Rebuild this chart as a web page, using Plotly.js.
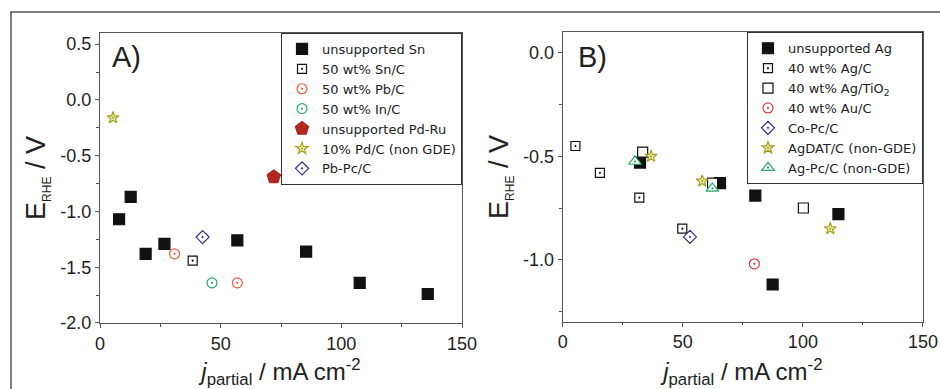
<!DOCTYPE html>
<html>
<head>
<meta charset="utf-8">
<script src="https://cdn.plot.ly/plotly-3.0.1.min.js"></script>
<style>html,body{margin:0;padding:0;background:#fff;}#chart{width:940px;height:389px;}</style>
</head>
<body>
<div id="chart"></div>
<script>
// ---------- Panel A data ----------
const snX = [7.9, 12.7, 18.9, 26.7, 56.9, 85.4, 107.6, 135.8];
const snY = [-1.07, -0.87, -1.38, -1.29, -1.26, -1.36, -1.64, -1.74];
const snCX = [38.4];
const snCY = [-1.44];
const pbCX = [30.9, 56.9];
const pbCY = [-1.38, -1.64];
const inCX = [46.4];
const inCY = [-1.64];
const pdRuX = [72.0];
const pdRuY = [-0.69];
const pdCX = [5.4];
const pdCY = [-0.16];
const pbPcX = [42.5];
const pbPcY = [-1.23];

// ---------- Panel B data ----------
const agX = [32.2, 65.5, 80.2, 114.8, 87.4];
const agY = [-0.53, -0.63, -0.69, -0.78, -1.12];
const agCX = [5.3, 15.5, 31.9, 49.8];
const agCY = [-0.45, -0.58, -0.70, -0.85];
const agTiX = [33.3, 62.4, 100.2];
const agTiY = [-0.48, -0.63, -0.75];
const auCX = [79.8];
const auCY = [-1.02];
const coPcX = [53.0];
const coPcY = [-0.89];
const agDatX = [36.8, 58.1, 111.4];
const agDatY = [-0.50, -0.62, -0.85];
const agPcX = [30.1, 62.3];
const agPcY = [-0.525, -0.655];

// ---------- tick labels ----------
const xTickVals = [0, 50, 100, 150];
const xTickText = ['0', '50', '100', '150'];
const yATickVals = [0.5, 0, -0.5, -1.0, -1.5, -2.0];
const yATickText = ['0.5', '0.0', '-0.5', '-1.0', '-1.5', '-2.0'];
const yBTickVals = [0, -0.5, -1.0];
const yBTickText = ['0.0', '-0.5', '-1.0'];

const cBlack = '#111111', cOrange = '#ee5a36', cGreen = '#22a862', cDarkRed = '#b0281e',
      cOlive = '#a3a31a', cNavy = '#2e2e96', cRed = '#e23a3a';

function tr(name, x, y, symbol, color, size, fill, xa, ya, legend) {
  return {
    type: 'scatter', mode: 'markers', name: name, x: x, y: y,
    xaxis: xa, yaxis: ya, legend: legend,
    marker: { symbol: symbol, size: size, color: fill, line: { color: color, width: 1.2 } }
  };
}

const data = [
  tr('unsupported Sn', snX, snY, 'square', cBlack, 11, cBlack, 'x', 'y', 'legend'),
  tr('50 wt% Sn/C', snCX, snCY, 'square-dot', cBlack, 9, 'white', 'x', 'y', 'legend'),
  tr('50 wt% Pb/C', pbCX, pbCY, 'circle-dot', cOrange, 10, 'white', 'x', 'y', 'legend'),
  tr('50 wt% In/C', inCX, inCY, 'circle-dot', cGreen, 10, 'white', 'x', 'y', 'legend'),
  tr('unsupported Pd-Ru', pdRuX, pdRuY, 'pentagon', cDarkRed, 14, cDarkRed, 'x', 'y', 'legend'),
  tr('10% Pd/C (non GDE)', pdCX, pdCY, 'star-dot', cOlive, 9, '#f2f2c8', 'x', 'y', 'legend'),
  tr('Pb-Pc/C', pbPcX, pbPcY, 'diamond-dot', cNavy, 10, 'white', 'x', 'y', 'legend'),

  tr('unsupported Ag', agX, agY, 'square', cBlack, 11, cBlack, 'x2', 'y2', 'legend2'),
  tr('40 wt% Ag/C', agCX, agCY, 'square-dot', cBlack, 9, 'white', 'x2', 'y2', 'legend2'),
  tr('40 wt% Ag/TiO<sub>2</sub>', agTiX, agTiY, 'square', cBlack, 10, 'white', 'x2', 'y2', 'legend2'),
  tr('40 wt% Au/C', auCX, auCY, 'circle-dot', cRed, 10, 'white', 'x2', 'y2', 'legend2'),
  tr('Co-Pc/C', coPcX, coPcY, 'diamond-dot', cNavy, 10, 'white', 'x2', 'y2', 'legend2'),
  tr('AgDAT/C (non-GDE)', agDatX, agDatY, 'star-dot', cOlive, 9, '#f2f2c8', 'x2', 'y2', 'legend2'),
  tr('Ag-Pc/C (non-GDE)', agPcX, agPcY, 'triangle-up-dot', cGreen, 11, 'white', 'x2', 'y2', 'legend2')
];

const axColor = '#555555';
const tickFont = { family: 'Liberation Sans, Arial, sans-serif', size: 18, color: '#222' };
const titleFontX = { family: 'Liberation Sans, Arial, sans-serif', size: 24, color: '#222' };
const titleFontY = { family: 'Liberation Sans, Arial, sans-serif', size: 27, color: '#222' };

function xAxis(domain, anchor) {
  return {
    domain: domain, anchor: anchor, range: [0, 150], showgrid: false, zeroline: false,
    showline: true, linecolor: axColor, linewidth: 1.2, mirror: true,
    ticks: 'outside', ticklen: 4, tickcolor: axColor, tickwidth: 1,
    tickvals: xTickVals, ticktext: xTickText, tickfont: tickFont,
    minor: { ticks: 'outside', ticklen: 2.5, tickcolor: axColor, dtick: 25, tick0: 0, showgrid: false },
    title: { text: '<i>j</i><sub>partial</sub> / mA cm<sup>-2</sup>', font: titleFontX, standoff: 12 }
  };
}
function yAxis(domain, anchor, range, vals, text) {
  return {
    domain: domain, anchor: anchor, range: range, showgrid: false, zeroline: false,
    showline: true, linecolor: axColor, linewidth: 1.2, mirror: true,
    ticks: 'outside', ticklen: 4, tickcolor: axColor, tickwidth: 1,
    tickvals: vals, ticktext: text, tickfont: tickFont,
    minor: { ticks: 'outside', ticklen: 2.5, tickcolor: axColor, dtick: 0.25, tick0: 0, showgrid: false },
    title: { text: 'E<sub><span style="font-size:12px">RHE</span></sub> / V', font: titleFontY, standoff: 6 }
  };
}

const legendFont = { family: 'DejaVu Sans, sans-serif', size: 13, color: '#222' };

const layout = {
  width: 940, height: 389,
  margin: { l: 0, r: 0, t: 0, b: 0 },
  paper_bgcolor: '#ffffff', plot_bgcolor: '#ffffff',
  showlegend: true,
  xaxis: xAxis([0.1064, 0.4915], 'y'),
  yaxis: yAxis([0.1697, 0.9152], 'x', [-2.0, 0.6], yATickVals, yATickText),
  xaxis2: xAxis([0.5986, 0.9819], 'y2'),
  yaxis2: yAxis([0.173, 0.917], 'x2', [-1.3, 0.1], yBTickVals, yBTickText),
  legend: {
    x: 0.4915, xanchor: 'right', y: 0.9152, yanchor: 'top',
    bgcolor: '#ffffff', bordercolor: '#333', borderwidth: 1, font: legendFont,
    tracegroupgap: 0
  },
  legend2: {
    x: 0.9819, xanchor: 'right', y: 0.917, yanchor: 'top',
    bgcolor: '#ffffff', bordercolor: '#333', borderwidth: 1, font: legendFont,
    tracegroupgap: 0
  },
  annotations: [
    { text: 'A)', xref: 'paper', yref: 'paper', x: 110 / 940, y: 1 - 57 / 389, xanchor: 'left', yanchor: 'middle',
      showarrow: false, font: { family: 'Liberation Sans, Arial, sans-serif', size: 29, color: '#222' } },
    { text: 'B)', xref: 'paper', yref: 'paper', x: 576 / 940, y: 1 - 57 / 389, xanchor: 'left', yanchor: 'middle',
      showarrow: false, font: { family: 'Liberation Sans, Arial, sans-serif', size: 29, color: '#222' } }
  ],
  shapes: [
    { type: 'rect', xref: 'paper', yref: 'paper', x0: 11 / 940, x1: 1.05, y0: -0.1, y1: 1 - 12 / 389,
      line: { color: '#555', width: 1.5 }, fillcolor: 'rgba(0,0,0,0)', layer: 'below' }
  ]
};

Plotly.newPlot('chart', data, layout, { displayModeBar: false });
</script>
</body>
</html>
